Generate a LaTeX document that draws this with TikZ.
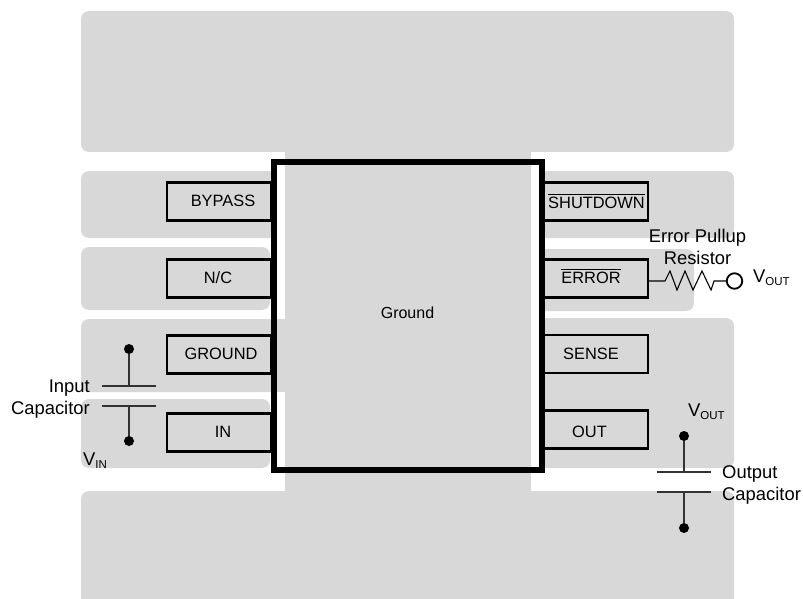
\documentclass[tikz,border=0pt]{standalone}
\usepackage{fontspec}
\setmainfont{Liberation Sans}
\definecolor{padgray}{HTML}{D8D8D8}
\newcommand{\subt}[1]{\raisebox{-3pt}{\fontsize{11.5}{11.5}\selectfont #1}}
\newcommand{\ovl}[1]{\setbox0=\hbox{#1}\rlap{\rule[13.6pt]{\wd0}{0.9pt}}\box0}
\tikzset{
  pad/.style={fill=padgray,draw=none,rounded corners=8pt},
  pinbox/.style={draw=black,line width=2.2pt,fill=padgray,inner sep=0pt,minimum height=38pt},
  pintext/.style={inner sep=0pt,text height=11.8pt,text depth=0pt,font=\fontsize{16.4}{16.4}\selectfont},
  label/.style={inner sep=0pt,font=\fontsize{18.4}{22}\selectfont,align=center},
  dotpt/.style={circle,fill=black,inner sep=0pt,minimum size=10pt},
  wire/.style={draw=black!80,line width=1.2pt}
}
\begin{document}
\begin{tikzpicture}[x=1pt,y=-1pt]
\useasboundingbox (0,0) rectangle (803,599);
% copper pads
\fill[pad] (81,11) rectangle (734,152);
\fill[pad] (81,171) rectangle (290,238);
\fill[pad] (81,247) rectangle (270,310);
\fill[pad] (81,319) rectangle (300,392);
\fill[pad] (81,399) rectangle (270,468);
\fill[pad] (81,491) rectangle (734,620);
\fill[padgray] (285,140) rectangle (531,500);
\fill[pad] (520,171) rectangle (734,238);
\fill[pad] (520,249) rectangle (694,311);
\fill[pad] (520,318) rectangle (734,468);
\fill[padgray] (531,491) rectangle (600,510);
% white strips beside the package
\fill[white] (531,152) rectangle (545,171);
\fill[white] (531,171) rectangle (543,491);
\fill[white] (272,152) rectangle (285,318);
\fill[white] (272,392) rectangle (285,491);
% pins
\node[pinbox,minimum width=104pt] (bypass) at (219,201.5) {};
\node[pinbox,minimum width=104pt] (nc) at (219,278.5) {};
\node[pinbox,minimum width=104pt] (gnd) at (219,354.5) {};
\node[pinbox,minimum width=104pt] (in) at (219,432.5) {};
\node[pinbox,minimum width=106pt] (shdn) at (595,201.5) {};
\node[pinbox,minimum width=106pt] (err) at (595,278.5) {};
\node[pinbox,minimum width=106pt] (sense) at (595,354) {};
\node[pinbox,minimum width=106pt] (out) at (595,429.5) {};
\node[pintext] (tbypass) at (223,201) {BYPASS};
\node[pintext] (tnc) at (218,278) {N/C};
\node[pintext] (tgnd) at (221,354) {GROUND};
\node[pintext] (tin) at (223,432) {IN};
\node[pintext] (tshdn) at (596.5,203) {\ovl{SHUTDOWN}};
\node[pintext] (terr) at (591,278) {\ovl{ERROR}};
\node[pintext] (tsense) at (591,354) {SENSE};
\node[pintext] (tout) at (589.5,432) {OUT};
% package
\node[draw=black,line width=6pt,minimum width=268pt,minimum height=308pt,inner sep=0pt] (ic) at (408,316) {};
\node[inner sep=0pt,font=\fontsize{16}{16}\selectfont] (ground) at (407.5,313) {Ground};
% input capacitor
\node[dotpt] (i1) at (129,349) {};
\node[dotpt] (i2) at (129,441) {};
\coordinate (ip1) at (129,386);
\coordinate (ip2) at (129,406);
\draw[wire] (i1) -- (ip1);
\draw[wire] (i2) -- (ip2);
\draw[wire] (102,386) -- (156,386);
\draw[wire] (102,406) -- (156,406);
\node[label,align=right,anchor=east] (icap) at (90,399.5) {Input\\Capacitor};
\node[label,anchor=west] (vin) at (83,461) {V\subt{IN}};
% output capacitor
\node[dotpt] (o1) at (684,436) {};
\node[dotpt] (o2) at (684,528) {};
\coordinate (op1) at (684,472);
\coordinate (op2) at (684,492);
\draw[wire] (o1) -- (op1);
\draw[wire] (o2) -- (op2);
\draw[wire] (657,472) -- (711,472);
\draw[wire] (657,492) -- (711,492);
\node[label,align=left,anchor=west] (ocap) at (722,484.5) {Output\\Capacitor};
\node[label,anchor=west] (vout2) at (688,412) {V\subt{OUT}};
% error pullup
\node[circle,draw=black,line width=1.8pt,inner sep=0pt,minimum size=15.5pt] (vc) at (734.5,281) {};
\node[label,anchor=west] (vout1) at (753,278) {V\subt{OUT}};
\draw[black,line width=1.1pt,line join=miter] (vc -| err.east) -- (665,281) -- (670,271) -- (677,290) -- (685,271) -- (693,290) -- (702,271) -- (711,290) -- (714,281) -- (vc);
\node[label] (epr) at (697.5,247) {Error Pullup\\Resistor};
\end{tikzpicture}
\end{document}
